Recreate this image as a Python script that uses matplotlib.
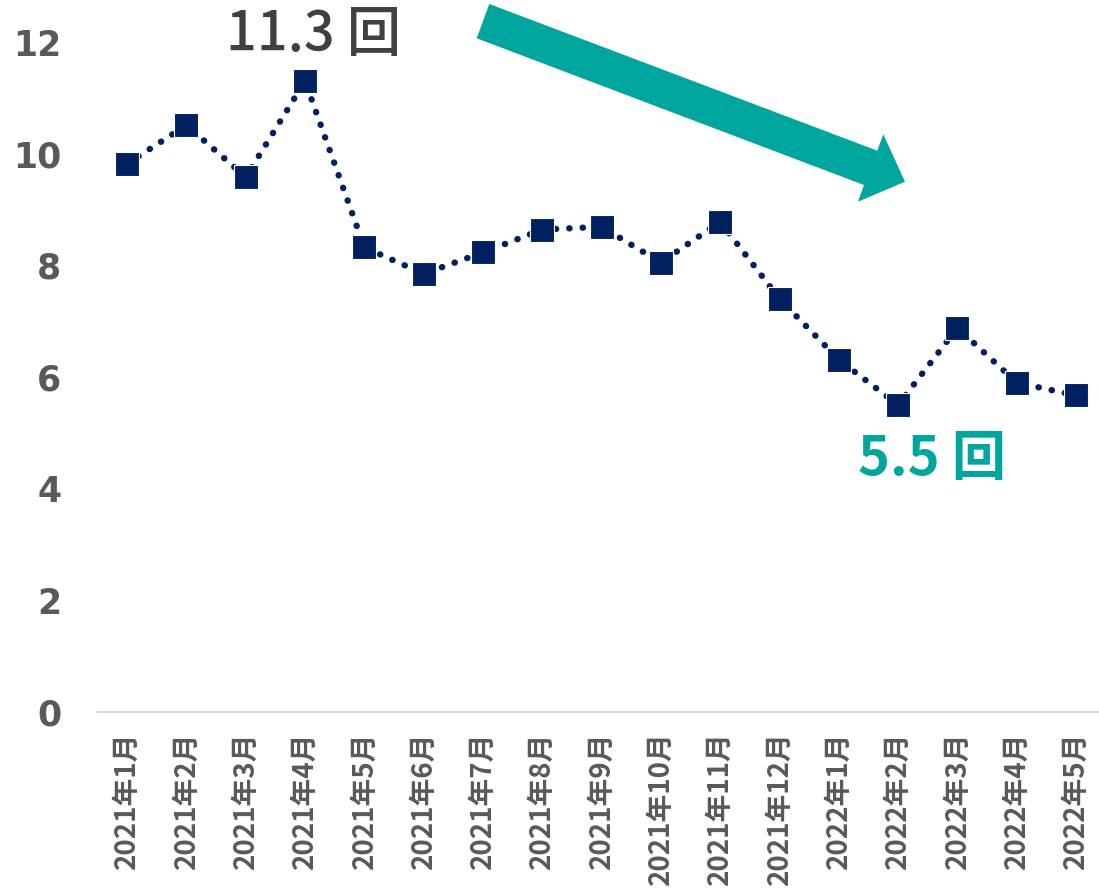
import matplotlib
matplotlib.use("Agg")
import matplotlib.pyplot as plt
from matplotlib.patches import Polygon

months = ["2021年1月", "2021年2月", "2021年3月", "2021年4月", "2021年5月", "2021年6月",
          "2021年7月", "2021年8月", "2021年9月", "2021年10月", "2021年11月", "2021年12月",
          "2022年1月", "2022年2月", "2022年3月", "2022年4月", "2022年5月"]
values = [9.82, 10.51, 9.58, 11.3, 8.32, 7.85, 8.23, 8.64, 8.69, 8.05, 8.78, 7.40,
          6.31, 5.5, 6.88, 5.90, 5.67]
yticks = [0, 2, 4, 6, 8, 10, 12]

NAVY = "#002060"
TEAL = "#00A59D"
GRAY = "#595959"

W, H = 1099, 890
fig = plt.figure(figsize=(W / 100, H / 100), dpi=100)
ax = fig.add_axes([97.5 / W, 178 / H, (1105.7 - 97.5) / W, (712 - 42) / H])

x = list(range(len(months)))
ax.plot(x, values, color=NAVY, linewidth=4.6, linestyle=(0, (0.05, 2.05)),
        dash_capstyle="round", zorder=2)
ax.plot(x, values, linestyle="none", marker="s", markersize=17.3,
        markerfacecolor=NAVY, markeredgecolor="white", markeredgewidth=0.8, zorder=3)

ax.set_xlim(-0.5, len(months) - 0.5)
ax.set_ylim(0, 12)
ax.set_yticks(yticks)
ax.set_yticklabels([str(v) for v in yticks], fontsize=25, fontweight="bold",
                   color=GRAY, family="DejaVu Sans")
ax.set_xticks(x)
ax.set_xticklabels(months, rotation=90, fontsize=20, fontweight="bold", color=GRAY,
                   family=["Noto Sans CJK JP", "DejaVu Sans"])
ax.tick_params(axis="y", length=0, pad=26)
ax.tick_params(axis="x", length=0, pad=14)
for s in ["top", "right", "left"]:
    ax.spines[s].set_visible(False)
ax.spines["bottom"].set_color("#D9D9D9")
ax.spines["bottom"].set_linewidth(1.5)

ax.text(3.14, 12.12, "11.3 回", ha="center", va="center", fontsize=39,
        color="#404040", family=["Noto Sans CJK JP", "DejaVu Sans"], fontweight="medium",
        clip_on=False)
ax.text(13.57, 4.53, "5.5 回", ha="center", va="center", fontsize=39,
        color=TEAL, family=["Noto Sans CJK JP", "DejaVu Sans"], fontweight="bold",
        clip_on=False)

# trend arrow (decoration), pixel coordinates converted to figure fraction
arrow_px = [(489.3, 4), (877.3, 150.7), (883.3, 134.3), (905, 181.7),
            (858, 201.7), (864, 185), (476.7, 38.3)]
arrow = Polygon([(px / W, 1 - py / H) for px, py in arrow_px], closed=True,
                transform=fig.transFigure, facecolor=TEAL, edgecolor="none")
fig.patches.append(arrow)

fig.savefig("out.png", dpi=100)
